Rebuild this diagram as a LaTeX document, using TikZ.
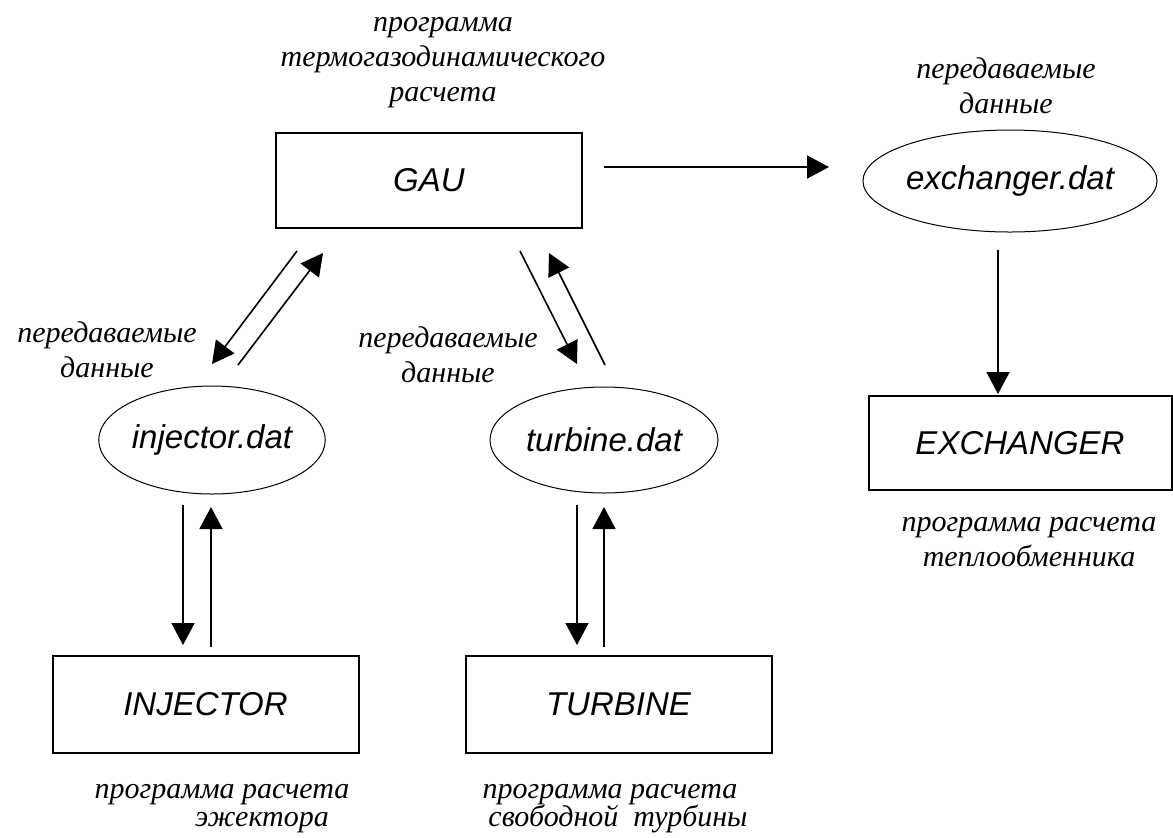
\documentclass[tikz,border=0pt]{standalone}
\usepackage{fontspec}
\setmainfont{Liberation Serif}
\newfontfamily\labfont{Liberation Sans}
\usetikzlibrary{arrows.meta,shapes.geometric}
\begin{document}
\begin{tikzpicture}[x=0.5pt,y=-0.5pt,
  box/.style={draw,line width=1pt,minimum width=153pt,minimum height=47.5pt,inner sep=0pt,
    font=\labfont\itshape\fontsize{16.5}{18}\selectfont},
  file/.style={draw,ellipse,line width=0.5pt,inner sep=0pt,
    font=\labfont\itshape\fontsize{16.5}{18}\selectfont},
  note/.style={align=center,inner sep=0pt,font=\itshape\fontsize{15}{17.5}\selectfont},
  flow/.style={line width=0.8pt,-{Triangle[length=11pt,width=11.5pt]}}]
\useasboundingbox (0,0) rectangle (1173,837);

% boxes
\node[box] (gau) at (429,180.5) {GAU};
\node[box,minimum height=48.5pt] (inj) at (205.5,704.5) {INJECTOR};
\node[box,minimum height=48.5pt] (tur) at (618.5,704.5) {TURBINE};
\node[box,minimum width=151.5pt,minimum height=47pt] (exc) at (1020,443) {EXCHANGER};

% data files
\node[file,minimum width=147pt,minimum height=51pt] (excd) at (1010,181) {exchanger.dat};
\node[file,minimum width=113pt,minimum height=54pt] (injd) at (212,440) {injector.dat};
\node[file,minimum width=114pt,minimum height=53pt] (turd) at (604,440) {turbine.dat};

% captions
\node[note] (capgau) at (443,63) {программа\\термогазодинамического\\расчета};
\node[note] (capexd) at (1006,86) {передаваемые\\данные};
\node[note] (capinjd) at (107,350) {передаваемые\\данные};
\node[note] (capturd) at (448,355) {передаваемые\\данные};
\node[note,font=\itshape\fontsize{15}{14}\selectfont] (capinj) at (222,809) {программа расчета\\\hspace*{40pt}эжектора};
\node[note,font=\itshape\fontsize{15}{14}\selectfont] (captur) at (610,809) {программа расчета\\\hspace*{8pt}свободной\ \ турбины};
\node[note] (capexc) at (1029,542) {программа расчета\\теплообменника};

% connector end points
\coordinate (a1) at (604,167);   \coordinate (b1) at (829,167);
\coordinate (a2) at (998,250);   \coordinate (b2) at (998,394);
\coordinate (a3) at (297,251);   \coordinate (b3) at (212,364);
\coordinate (a4) at (238,365);   \coordinate (b4) at (323,253);
\coordinate (a5) at (520,251);   \coordinate (b5) at (577,364);
\coordinate (a6) at (605,365);   \coordinate (b6) at (549,253);
\coordinate (a7) at (183,505);   \coordinate (b7) at (183,645);
\coordinate (a8) at (211,647);   \coordinate (b8) at (211,507);
\coordinate (a9) at (577,505);   \coordinate (b9) at (577,645);
\coordinate (a10) at (604,647);  \coordinate (b10) at (604,507);

\draw[flow] (a1) -- (b1);
\draw[flow] (a2) -- (b2);
\draw[flow] (a3) -- (b3);
\draw[flow] (a4) -- (b4);
\draw[flow] (a5) -- (b5);
\draw[flow] (a6) -- (b6);
\draw[flow] (a7) -- (b7);
\draw[flow] (a8) -- (b8);
\draw[flow] (a9) -- (b9);
\draw[flow] (a10) -- (b10);
\end{tikzpicture}
\end{document}
